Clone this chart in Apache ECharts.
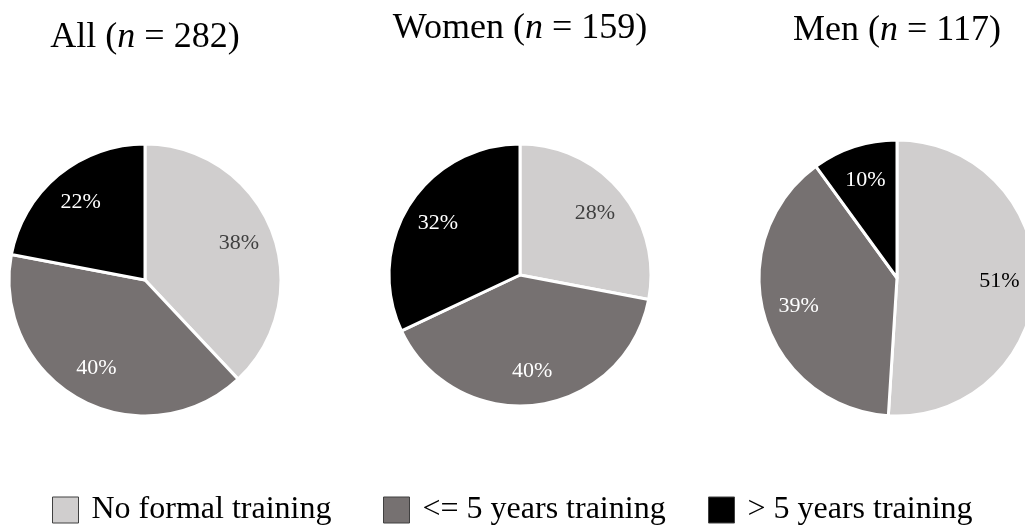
<!DOCTYPE html>
<html>
<head>
<meta charset="utf-8">
<script src="https://cdn.jsdelivr.net/npm/echarts@6/dist/echarts.min.js"></script>
<style>
  html, body { margin: 0; padding: 0; background: #fff; }
  #chart { width: 1025px; height: 528px; }
</style>
</head>
<body>
<div id="chart"></div>
<script>
const categories = ["No formal training", "<= 5 years training", "> 5 years training"];
const groupNames = ["All", "Women", "Men"];
const groupSizes = [282, 159, 117];
const allValues = [38, 40, 22];
const womenValues = [28, 40, 32];
const menValues = [51, 39, 10];

const sliceColors = ["#d0cece", "#767171", "#000000"];
const labelColors = [["#404040", "#ffffff", "#ffffff"], ["#404040", "#ffffff", "#ffffff"], ["#000000", "#ffffff", "#ffffff"]];
const serif = "Liberation Serif, Times New Roman, serif";

// pie layout: center and radius in px
const pies = [
  { values: allValues, center: [145, 280], r: 136, titleTop: 20 },
  { values: womenValues, center: [520, 275], r: 131, titleTop: 11 },
  { values: menValues, center: [897, 278], r: 138, titleTop: 13 },
];

const chart = echarts.init(document.getElementById("chart"));

const titles = pies.map((p, i) => ({
  text: `${groupNames[i]} ({i|n} = ${groupSizes[i]})`,
  left: p.center[0],
  top: p.titleTop,
  textAlign: "center",
  padding: 0,
  textStyle: {
    fontFamily: serif,
    fontSize: 36,
    fontWeight: "normal",
    color: "#000",
    rich: {
      i: { fontFamily: serif, fontSize: 36, fontStyle: "italic", color: "#000" },
    },
  },
}));

const series = [];
pies.forEach((p) => {
  series.push({
    type: "pie",
    center: p.center,
    radius: [0, p.r],
    startAngle: 90,
    clockwise: true,
    silent: true,
    label: { show: false },
    labelLine: { show: false },
    itemStyle: { borderColor: "#fff", borderWidth: 3 },
    data: p.values.map((v, k) => ({
      name: categories[k],
      value: v,
      itemStyle: { color: sliceColors[k] },
    })),
  });
});
// transparent overlay pies only for placing the percentage labels
pies.forEach((p, i) => {
  series.push({
    type: "pie",
    center: p.center,
    radius: [0, p.r * 1.44],
    startAngle: 90,
    clockwise: true,
    silent: true,
    labelLine: { show: false },
    itemStyle: { color: "rgba(0,0,0,0)", borderWidth: 0 },
    label: {
      show: true,
      position: "inner",
      fontFamily: serif,
      fontSize: 22,
      formatter: (d) => `${d.value}%`,
    },
    data: p.values.map((v, k) => ({
      name: categories[k],
      value: v,
      label: { color: labelColors[i][k] },
    })),
  });
});

const legendLefts = [52, 383, 708];
const legends = categories.map((name, k) => ({
  data: [name],
  left: legendLefts[k],
  top: 494,
  padding: 0,
  itemWidth: 26,
  itemHeight: 26,
  icon: "rect",
  itemStyle: { borderColor: "#404040", borderWidth: 1 },
  textStyle: { fontFamily: serif, fontSize: 32, color: "#000", padding: [0, 0, 0, 8] },
  selectedMode: false,
}));

chart.setOption({
  backgroundColor: "#fff",
  animation: false,
  title: titles,
  legend: legends,
  series: series,
});
</script>
</body>
</html>
